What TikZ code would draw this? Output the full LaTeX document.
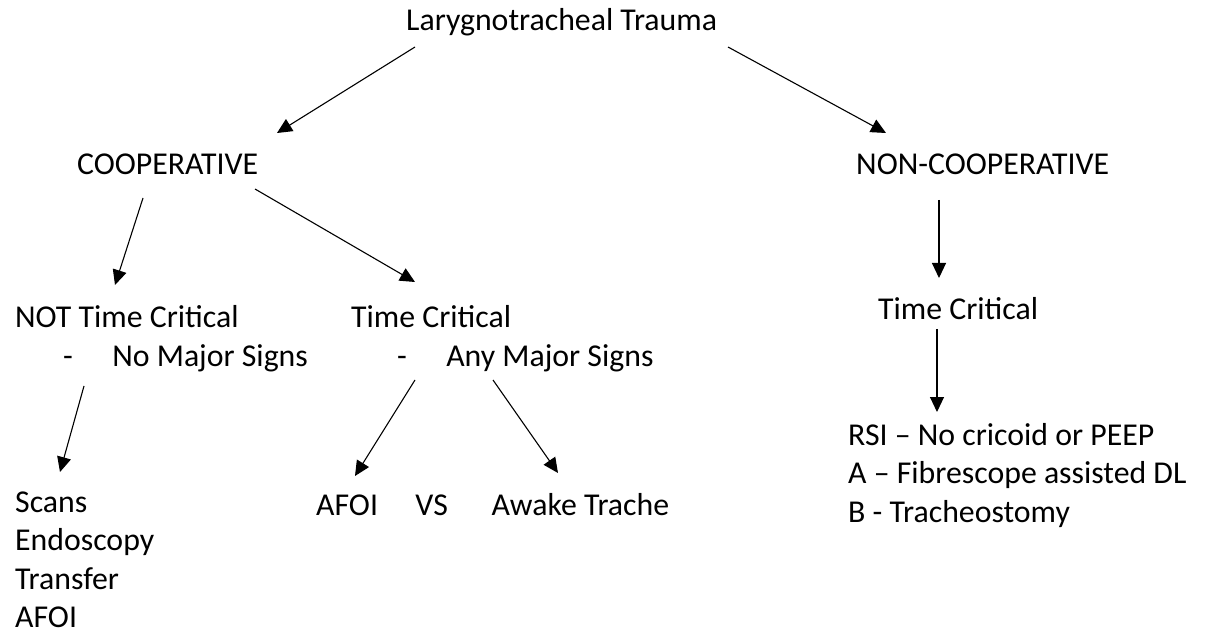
\documentclass[tikz,border=0pt]{standalone}
\usepackage{fontspec}
\setmainfont{Carlito}
\usetikzlibrary{arrows.meta}
\begin{document}
\begin{tikzpicture}[x=1pt,y=-1pt,
  lbl/.style={anchor=base west,inner sep=0pt,align=left,
    font=\fontsize{31.8}{38.5}\selectfont},
  conn/.style={line width=1.1pt,-{Triangle[length=15pt,width=14pt]}}]
\useasboundingbox[fill=white] (0,0) rectangle (1208,636);
% text (base = baseline of the last line)
\node[lbl] (title) at (406,31) {Larygnotracheal Trauma};
\node[lbl] (coop) at (77,175) {COOPERATIVE};
\node[lbl] (noncoop) at (856,175) {NON-COOPERATIVE};
\node[lbl] (notc) at (15,366.5) {NOT Time Critical\\\hspace*{48pt}-\hspace*{39.4pt}No Major Signs};
\node[lbl] (tc) at (351,366.5) {Time Critical\\\hspace*{46pt}-\hspace*{39.4pt}Any Major Signs};
\node[lbl] (tcr) at (878,320) {Time Critical};
\node[lbl] (rsi) at (848,522) {RSI – No cricoid or PEEP\\A – Fibrescope assisted DL\\B - Tracheostomy};
\node[lbl] (scans) at (15,627.5) {Scans\\Endoscopy\\Transfer\\AFOI};
\node[lbl] (afoi) at (316,515) {AFOI\hspace*{37.5pt}VS\hspace*{43.6pt}Awake Trache};
% connector ends
\coordinate (t1s) at (415,47);  \coordinate (t1e) at (277,133);
\coordinate (t2s) at (728,47);  \coordinate (t2e) at (886,133);
\coordinate (c1s) at (143,198); \coordinate (c1e) at (115,285);
\coordinate (c2s) at (255,189); \coordinate (c2e) at (415,282);
\coordinate (n1s) at (939,200); \coordinate (n1e) at (939,278);
\coordinate (n2s) at (937,329); \coordinate (n2e) at (937,412);
\coordinate (m1s) at (84,386);  \coordinate (m1e) at (60,472);
\coordinate (m2s) at (415,380); \coordinate (m2e) at (355,476);
\coordinate (m3s) at (493,380); \coordinate (m3e) at (558,473);
\draw[conn] (t1s) -- (t1e);
\draw[conn] (t2s) -- (t2e);
\draw[conn] (c1s) -- (c1e);
\draw[conn] (c2s) -- (c2e);
\draw[conn] (n1s) -- (n1e);
\draw[conn] (n2s) -- (n2e);
\draw[conn] (m1s) -- (m1e);
\draw[conn] (m2s) -- (m2e);
\draw[conn] (m3s) -- (m3e);
\end{tikzpicture}
\end{document}
